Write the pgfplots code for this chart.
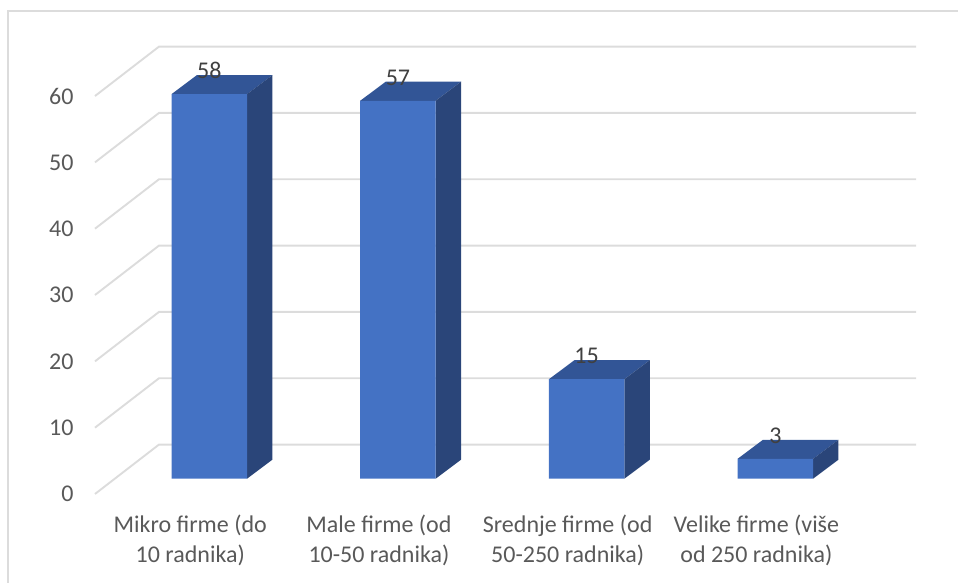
\documentclass[border=0pt]{standalone}
\usepackage{fontspec}
\setmainfont{Carlito}
\usepackage{pgfplots}
\pgfplotsset{compat=1.18}
\definecolor{barfront}{HTML}{4472C4}
\definecolor{bartop}{HTML}{325596}
\definecolor{barside}{HTML}{2A4579}
\definecolor{gridc}{HTML}{DCDCDC}
\definecolor{textc}{HTML}{595959}
\definecolor{labelc}{HTML}{404040}
\pgfplotsset{
  pagebox/.style={
    scale only axis, width=958pt, height=583pt,
    at={(0pt,0pt)}, anchor=south west,
    xmin=-1.1089, xmax=3.968,
    /pgf/number format/assume math mode=true,
  },
}
\begin{document}
\begin{tikzpicture}
  \useasboundingbox (0,0) rectangle (958pt,583pt);
  % walls and ticks: y=0 is the front edge of the floor
  \begin{axis}[
      pagebox,
      ymin=-13.42, ymax=74.48,
      axis line style={draw=none},
      major tick length=0pt,
      tick style={draw=none},
      ytick={0,10,20,30,40,50,60},
      xtick={0,1,2,3},
      xticklabels={{Mikro firme (do\\10 radnika)},{Male firme (od\\10-50 radnika)},{Srednje firme (od\\50-250 radnika)},{Velike firme (više\\od 250 radnika)}},
      tick label style={font=\fontsize{24}{30}\selectfont, text=textc},
      xticklabel style={align=center, xshift=-19pt, yshift=72pt},
      yticklabel style={xshift=77pt},
    ]
    \addplot[gridc, line width=1.9pt] coordinates {(-0.6055,0) (-0.2663,7.45) (3.746,7.45)};
    \addplot[gridc, line width=1.9pt] coordinates {(-0.6055,10) (-0.2663,17.45) (3.746,17.45)};
    \addplot[gridc, line width=1.9pt] coordinates {(-0.6055,20) (-0.2663,27.45) (3.746,27.45)};
    \addplot[gridc, line width=1.9pt] coordinates {(-0.6055,30) (-0.2663,37.45) (3.746,37.45)};
    \addplot[gridc, line width=1.9pt] coordinates {(-0.6055,40) (-0.2663,47.45) (3.746,47.45)};
    \addplot[gridc, line width=1.9pt] coordinates {(-0.6055,50) (-0.2663,57.45) (3.746,57.45)};
    \addplot[gridc, line width=1.9pt] coordinates {(-0.6055,60) (-0.2663,67.45) (3.746,67.45)};
  \end{axis}
  % chart frame
  \draw[gridc, line width=2pt] (8pt,0pt) -- (8pt,572pt) -- (958pt,572pt);
  % bars: y=0 is the foot of the front faces
  \begin{axis}[
      pagebox,
      ymin=-15.73, ymax=72.2,
      hide axis,
    ]
    \addplot[fill=bartop, draw=none] coordinates {(-0.2,58) (0.2,58) (0.3346,60.87) (-0.0654,60.87)};
    \addplot[fill=barside, draw=none] coordinates {(0.2,0) (0.3346,2.87) (0.3346,60.87) (0.2,58)};
    \addplot[fill=bartop, draw=none] coordinates {(0.8,57) (1.2,57) (1.3346,59.87) (0.9346,59.87)};
    \addplot[fill=barside, draw=none] coordinates {(1.2,0) (1.3346,2.87) (1.3346,59.87) (1.2,57)};
    \addplot[fill=bartop, draw=none] coordinates {(1.8,15) (2.2,15) (2.3346,17.87) (1.9346,17.87)};
    \addplot[fill=barside, draw=none] coordinates {(2.2,0) (2.3346,2.87) (2.3346,17.87) (2.2,15)};
    \addplot[fill=bartop, draw=none] coordinates {(2.8,3) (3.2,3) (3.3346,5.87) (2.9346,5.87)};
    \addplot[fill=barside, draw=none] coordinates {(3.2,0) (3.3346,2.87) (3.3346,5.87) (3.2,3)};
    \addplot[ybar, bar width=75.5pt, bar shift=0pt, fill=barfront, draw=none,
      nodes near coords,
      every node near coord/.append style={font=\fontsize{24}{28}\selectfont, text=labelc, yshift=12pt},
    ] coordinates {(0,58) (1,57) (2,15) (3,3)};
  \end{axis}
\end{tikzpicture}
\end{document}
